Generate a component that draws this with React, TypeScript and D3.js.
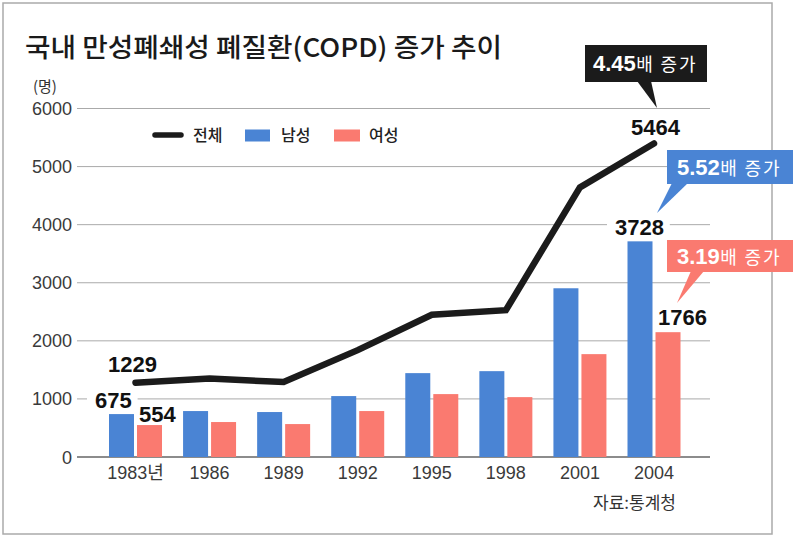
import React from 'react';
import * as d3 from 'd3';

const categories = ['1983년', '1986', '1989', '1992', '1995', '1998', '2001', '2004'];
const totalValues = [1280, 1350, 1290, 1840, 2450, 2527, 4641, 5398];
const maleValues = [739, 791, 774, 1049, 1444, 1478, 2905, 3713];
const femaleValues = [550, 602, 567, 791, 1083, 1031, 1771, 2149];
const yTicks = [0, 1000, 2000, 3000, 4000, 5000, 6000];
const valueLabels = [
  { series: 'total', index: 0, text: '1229' },
  { series: 'male', index: 0, text: '675' },
  { series: 'female', index: 0, text: '554' },
  { series: 'total', index: 7, text: '5464' },
  { series: 'male', index: 7, text: '3728' },
  { series: 'female', index: 7, text: '1766' },
];
const callouts = [
  { series: 'total', big: '4.45', small: '배 증가' },
  { series: 'male', big: '5.52', small: '배 증가' },
  { series: 'female', big: '3.19', small: '배 증가' },
];

const FONT = "'Noto Sans CJK KR', 'Noto Sans', sans-serif";
const NUM = "'Liberation Sans', 'Noto Sans CJK KR', sans-serif";
const BLUE = '#4a84d4';
const RED = '#fa7a70';
const BLACK = '#1b1b1b';

export default function App() {
  const W = 799, H = 537;
  const x = d3.scalePoint<string>().domain(categories).range([135.5, 654]);
  const y = d3.scaleLinear().domain([0, 6000]).range([457, 108.5]);
  const line = d3.line<number>().x((_, i) => x(categories[i])!).y(d => y(d));

  const barW = 25, gap = 1.5;

  const labelPos: Record<string, { x: number; y: number; bg: boolean }> = {
    'total-0': { x: 108, y: 372, bg: false },
    'male-0': { x: 95, y: 408, bg: true },
    'female-0': { x: 139, y: 422, bg: false },
    'total-7': { x: 631, y: 135, bg: false },
    'male-7': { x: 615, y: 235, bg: true },
    'female-7': { x: 658, y: 325, bg: false },
  };

  const calloutStyle: Record<string, any> = {
    total: { fill: BLACK, box: [585, 45, 122, 37], tail: [[637, 81], [651, 81], [657, 108]], tx: 593, ty: 71 },
    male: { fill: BLUE, box: [667, 150, 126, 34], tail: [[672, 183], [688, 183], [657, 213]], tx: 677, ty: 175 },
    female: { fill: RED, box: [667, 240, 126, 32], tail: [[691, 271], [704, 271], [677, 303]], tx: 677, ty: 264 },
  };

  return (
    <svg width={W} height={H} style={{ position: 'absolute', left: 0, top: 0, background: '#fff' }} fontFamily={FONT}>
      <rect x={3} y={3} width={769} height={531} fill="#fff" stroke="#aaa" strokeWidth={1.5} />
      <text x={25} y={57} fontSize={26} fontWeight={500} fill="#1a1a1a" textLength={477} lengthAdjust="spacingAndGlyphs">
        국내 만성폐쇄성 폐질환(COPD) 증가 추이
      </text>
      <text x={33} y={92} fontSize={15} fill="#333">(명)</text>

      {yTicks.map(t => (
        <g key={t}>
          <line x1={77} x2={710} y1={y(t)} y2={y(t)} stroke={t === 0 ? '#666' : '#aaa'} strokeWidth={t === 0 ? 1.5 : 1} />
          <text x={72} y={y(t) + 6.5} fontSize={18} textAnchor="end" fill="#3a3a3a" fontFamily={NUM}>{t}</text>
        </g>
      ))}

      {categories.map((c, i) => (
        <g key={c}>
          <rect x={x(c)! - gap - barW} y={y(maleValues[i])} width={barW} height={y(0) - y(maleValues[i])} fill={BLUE} />
          <rect x={x(c)! + gap} y={y(femaleValues[i])} width={barW} height={y(0) - y(femaleValues[i])} fill={RED} />
          <text x={x(c)!} y={479} fontSize={18} textAnchor="middle" fill="#3a3a3a" fontFamily={NUM}>{c}</text>
        </g>
      ))}

      <path d={line(totalValues)!} fill="none" stroke={BLACK} strokeWidth={6.5} strokeLinecap="round" strokeLinejoin="miter" />

      {/* legend */}
      <line x1={155} x2={181} y1={135} y2={135} stroke={BLACK} strokeWidth={5.5} strokeLinecap="round" />
      <text x={193} y={141} fontSize={16} fill="#222" fontWeight={500}>전체</text>
      <rect x={245} y={129.5} width={25} height={12} fill={BLUE} />
      <text x={281} y={141} fontSize={16} fill="#222" fontWeight={500}>남성</text>
      <rect x={334} y={129.5} width={26} height={12} fill={RED} />
      <text x={369} y={141} fontSize={16} fill="#222" fontWeight={500}>여성</text>

      {/* value labels */}
      {valueLabels.map(l => {
        const p = labelPos[`${l.series}-${l.index}`];
        const w = l.text.length * 12.2;
        return (
          <g key={l.series + l.index}>
            {p.bg && <rect x={p.x - 8} y={p.y - 17} width={w + 14} height={20} fill="#fff" />}
            <text x={p.x} y={p.y} fontSize={22} fontWeight={700} fill="#111" fontFamily={NUM}>{l.text}</text>
          </g>
        );
      })}

      {/* callouts */}
      {callouts.map(c => {
        const s = calloutStyle[c.series];
        const [bx, by, bw, bh] = s.box;
        return (
          <g key={c.series}>
            <rect x={bx} y={by} width={bw} height={bh} fill={s.fill} />
            <polygon points={s.tail.map((p: number[]) => p.join(',')).join(' ')} fill={s.fill} />
            <text x={s.tx} y={s.ty} fill="#fff">
              <tspan fontSize={22} fontWeight={700} fontFamily={NUM}>{c.big}</tspan>
              <tspan fontSize={18} fontWeight={400} dx={0.5} letterSpacing={1.8}>{c.small}</tspan>
            </text>
          </g>
        );
      })}

      <text x={676} y={509} fontSize={17} textAnchor="end" fill="#333">자료:통계청</text>
    </svg>
  );
}
